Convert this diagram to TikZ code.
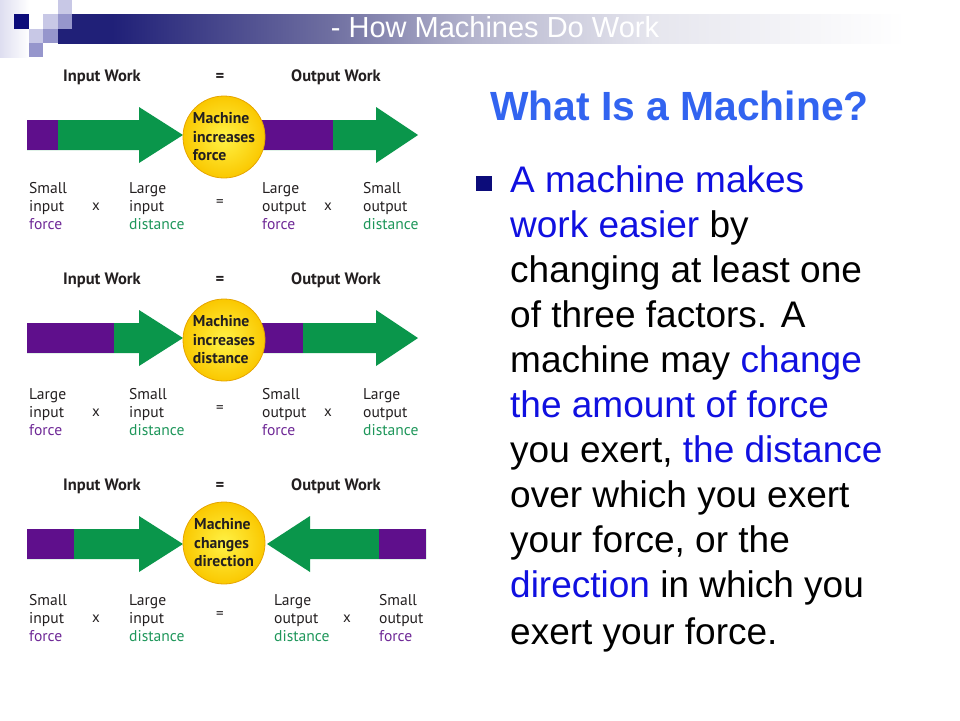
\documentclass[tikz,border=0pt]{standalone}
\usepackage{fontspec}
\setmainfont{Liberation Sans}
\newfontfamily\labelfont{PT Sans}
\definecolor{navyd}{RGB}{12,12,122}
\definecolor{navym}{RGB}{150,150,204}
\definecolor{navyl}{RGB}{200,200,230}
\definecolor{hdA}{RGB}{32,32,120}
\definecolor{hdB}{RGB}{110,110,160}
\definecolor{hdC}{RGB}{180,180,205}
\definecolor{hdD}{RGB}{230,230,238}
\definecolor{titleblue}{RGB}{50,100,240}
\definecolor{bodyblue}{RGB}{16,16,224}
\definecolor{arrowgreen}{RGB}{10,150,75}
\definecolor{forcepurple}{RGB}{95,15,140}
\definecolor{txtpurple}{RGB}{110,40,150}
\definecolor{txtgreen}{RGB}{30,150,90}
\definecolor{labelgray}{RGB}{35,31,32}
\definecolor{ballin}{RGB}{255,242,70}
\definecolor{ballout}{RGB}{250,200,0}
\definecolor{ballrim}{RGB}{230,165,0}
\pgfdeclarehorizontalshading{headbar}{100bp}{color(0bp)=(hdA); color(28bp)=(hdA); color(40bp)=(hdB); color(48bp)=(hdC); color(58bp)=(hdD); color(72bp)=(white); color(100bp)=(white)}

\begin{document}
\begin{tikzpicture}[x=1pt,y=-1pt,
    work/.style={font=\labelfont\bfseries\fontsize{16.5}{18}\selectfont, text=labelgray},
    lbl/.style={font=\labelfont\fontsize{15.6}{18.2}\selectfont, text=labelgray, align=left, anchor=west, inner sep=0pt},
    times/.style={font=\labelfont\fontsize{15}{16}\selectfont, text=labelgray},
    machine/.style={circle, minimum size=82pt, inner sep=0pt, draw=ballrim, line width=0.8pt,
      inner color=ballin, outer color=ballout, align=left, text=labelgray,
      font=\labelfont\bfseries\fontsize{15.7}{18.5}\selectfont},
    body/.style={font=\fontsize{37}{45}\selectfont, anchor=base west, inner sep=0pt}]
  \useasboundingbox (0,0) rectangle (960,720);

  % header bar
  \fill[left color=navyl!60, right color=white] (0,0) rectangle (29,57);
  \shade[shading=headbar] (58,14) rectangle (960,43);
  \fill[navyd] (14,14) rectangle (29,29);
  \fill[navyl] (58,0) rectangle (72,14);
  \fill[navyl] (43,14) rectangle (58,29);
  \fill[navym] (58,14) rectangle (72,29);
  \fill[navyl] (29,29) rectangle (43,43);
  \fill[navym] (43,29) rectangle (58,43);
  \fill[navym] (29,43) rectangle (43,57);
  \node[white, font=\fontsize{29}{32}\selectfont, anchor=base] (head) at (495,37) {- How Machines Do Work};

  % panel 1: increases force
  \node[work] (in1) at (102,77) {Input Work};
  \node[work] (eq1) at (220,77) {=};
  \node[work] (out1) at (336,77) {Output Work};
  \fill[arrowgreen] (27,120) -- (139,120) -- (139,107) -- (183,135) -- (139,163) -- (139,150) -- (27,150) -- cycle;
  \fill[forcepurple] (27,120) rectangle (58,150);
  \fill[arrowgreen] (250,120) -- (376,120) -- (376,107) -- (418,135) -- (376,163) -- (376,150) -- (250,150) -- cycle;
  \fill[forcepurple] (250,120) rectangle (333,150);
  \node[machine] (m1) at (224,137) {Machine\\increases\\force};
  \node[lbl] (a1) at (29,206) {Small\\input\\\textcolor{txtpurple}{force}};
  \node[times] (x1) at (96,207) {x};
  \node[lbl] (b1) at (129,206) {Large\\input\\\textcolor{txtgreen}{distance}};
  \node[times] (e1) at (220,203) {=};
  \node[lbl] (c1) at (262,206) {Large\\output\\\textcolor{txtpurple}{force}};
  \node[times] (y1) at (328,207) {x};
  \node[lbl] (d1) at (363,206) {Small\\output\\\textcolor{txtgreen}{distance}};

  % panel 2: increases distance
  \begin{scope}[shift={(0,203)}]
    \node[work] (in2) at (102,77) {Input Work};
    \node[work] (eq2) at (220,77) {=};
    \node[work] (out2) at (336,77) {Output Work};
    \fill[arrowgreen] (27,120) -- (139,120) -- (139,107) -- (183,135) -- (139,163) -- (139,150) -- (27,150) -- cycle;
    \fill[forcepurple] (27,120) rectangle (114,150);
    \fill[arrowgreen] (250,120) -- (376,120) -- (376,107) -- (418,135) -- (376,163) -- (376,150) -- (250,150) -- cycle;
    \fill[forcepurple] (250,120) rectangle (303,150);
    \node[machine] (m2) at (224,137) {Machine\\increases\\distance};
    \node[lbl] (a2) at (29,209) {Large\\input\\\textcolor{txtpurple}{force}};
    \node[times] (x2) at (96,210) {x};
    \node[lbl] (b2) at (129,209) {Small\\input\\\textcolor{txtgreen}{distance}};
    \node[times] (e2) at (220,206) {=};
    \node[lbl] (c2) at (262,209) {Small\\output\\\textcolor{txtpurple}{force}};
    \node[times] (y2) at (328,210) {x};
    \node[lbl] (d2) at (363,209) {Large\\output\\\textcolor{txtgreen}{distance}};
  \end{scope}

  % panel 3: changes direction
  \begin{scope}[shift={(0,409)}]
    \node[work] (in3) at (102,77) {Input Work};
    \node[work] (eq3) at (220,77) {=};
    \node[work] (out3) at (336,77) {Output Work};
    \fill[arrowgreen] (27,120) -- (139,120) -- (139,107) -- (183,135) -- (139,163) -- (139,150) -- (27,150) -- cycle;
    \fill[forcepurple] (27,120) rectangle (74,150);
    \fill[arrowgreen] (426,120) -- (310,120) -- (310,107) -- (267,135) -- (310,163) -- (310,150) -- (426,150) -- cycle;
    \fill[forcepurple] (379,120) rectangle (426,150);
    \node[machine] (m3) at (224,134) {Machine\\changes\\direction};
    \node[lbl] (a3) at (29,209) {Small\\input\\\textcolor{txtpurple}{force}};
    \node[times] (x3) at (96,210) {x};
    \node[lbl] (b3) at (129,209) {Large\\input\\\textcolor{txtgreen}{distance}};
    \node[times] (e3) at (220,206) {=};
    \node[lbl] (c3) at (274,209) {Large\\output\\\textcolor{txtgreen}{distance}};
    \node[times] (y3) at (347,210) {x};
    \node[lbl] (d3) at (379,209) {Small\\output\\\textcolor{txtpurple}{force}};
  \end{scope}

  % right-hand text
  \node[titleblue, font=\bfseries\fontsize{40.8}{44}\selectfont, anchor=base west, inner sep=0pt] (title) at (490,120) {What Is a Machine?};
  \fill[navyd] (476,176) rectangle (492,191);
  \node[body, bodyblue] (l1) at (510,192) {A machine makes};
  \node[body] (l2) at (510,237) {\textcolor{bodyblue}{work easier} by};
  \node[body] (l3) at (510,282) {changing at least one};
  \node[body] (l4) at (510,327) {of three factors. A};
  \node[body] (l5) at (510,372) {machine may \textcolor{bodyblue}{change}};
  \node[body, bodyblue] (l6) at (510,417) {the amount of force};
  \node[body] (l7) at (510,462) {you exert, \textcolor{bodyblue}{the distance}};
  \node[body] (l8) at (510,507) {over which you exert};
  \node[body] (l9) at (510,552) {your force, or the};
  \node[body] (l10) at (510,597) {\textcolor{bodyblue}{direction} in which you};
  \node[body] (l11) at (510,644) {exert your force.};
\end{tikzpicture}
\end{document}
